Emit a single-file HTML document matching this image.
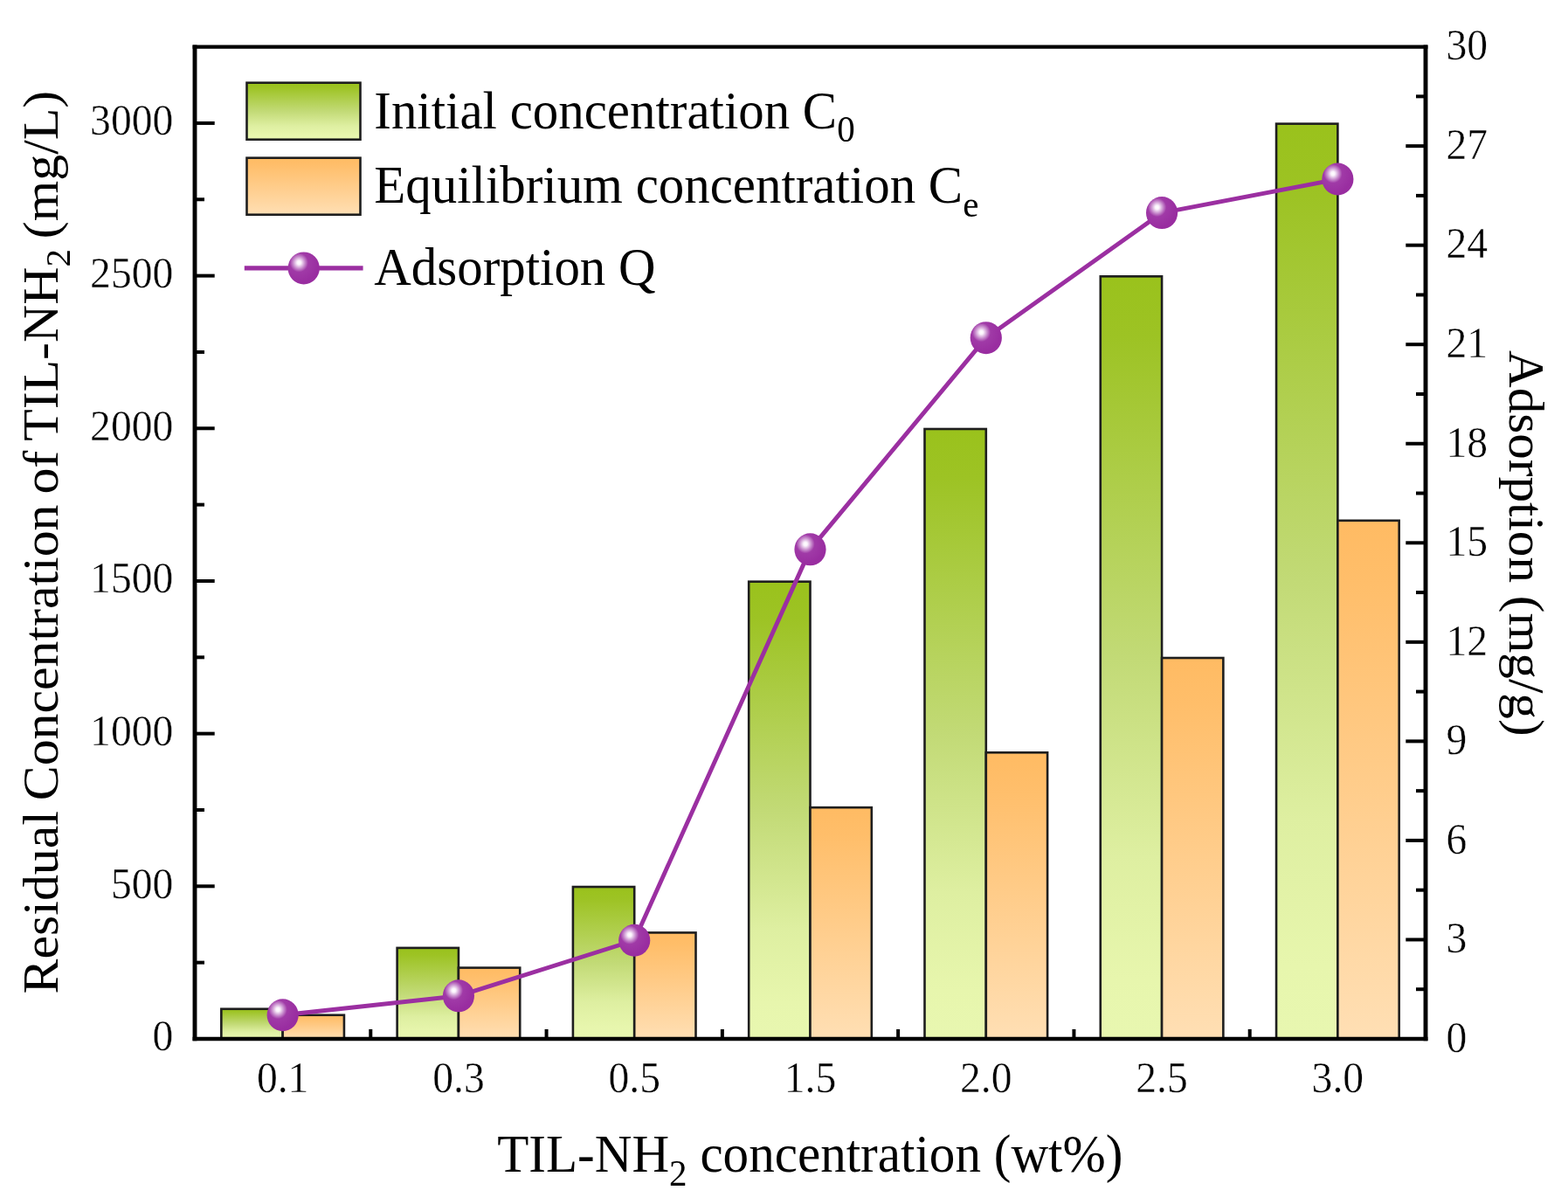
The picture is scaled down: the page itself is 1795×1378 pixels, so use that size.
<!DOCTYPE html>
<html lang="en"><head><meta charset="utf-8"><title>Residual concentration of TIL-NH2 and adsorption</title>
<style>html,body{margin:0;padding:0;background:#fff;}body{width:1795px;height:1378px;overflow:hidden;}svg{display:block;filter:blur(0.6px);}text{font-family:"Liberation Serif","Times New Roman",serif;fill:#000;stroke:#fff;stroke-width:0;}</style></head><body>
<svg width="1795" height="1378" viewBox="0 0 1795 1378">
<defs>
<linearGradient id="gG" x1="0" y1="0" x2="0" y2="1"><stop offset="0" stop-color="#9ac21c"/><stop offset="0.08" stop-color="#9dc324"/><stop offset="0.5" stop-color="#c2da76"/><stop offset="0.76" stop-color="#deefa1"/><stop offset="0.92" stop-color="#e7f6ad"/><stop offset="1" stop-color="#e8f7b0"/></linearGradient>
<linearGradient id="gO" x1="0" y1="0" x2="0" y2="1"><stop offset="0" stop-color="#ffbb63"/><stop offset="0.12" stop-color="#ffbe6a"/><stop offset="1" stop-color="#ffdfb4"/></linearGradient>
<radialGradient id="gS" cx="0.35" cy="0.33" r="0.62" fx="0.35" fy="0.33"><stop offset="0" stop-color="#ffffff"/><stop offset="0.1" stop-color="#faf2fb"/><stop offset="0.3" stop-color="#c88ccd"/><stop offset="0.47" stop-color="#a03aa7"/><stop offset="1" stop-color="#992da0"/></radialGradient>
</defs>
<rect x="0" y="0" width="1795" height="1378" fill="#ffffff"/>
<g stroke="#1e1e1e" stroke-width="2.6" stroke-linejoin="miter">
<rect x="253.34" y="1154.76" width="70.30" height="34.24" fill="url(#gG)"/>
<rect x="323.64" y="1161.75" width="70.30" height="27.25" fill="url(#gO)"/>
<rect x="454.63" y="1084.89" width="70.30" height="104.11" fill="url(#gG)"/>
<rect x="524.93" y="1107.60" width="70.30" height="81.40" fill="url(#gO)"/>
<rect x="655.91" y="1015.02" width="70.30" height="173.98" fill="url(#gG)"/>
<rect x="726.21" y="1067.43" width="70.30" height="121.57" fill="url(#gO)"/>
<rect x="857.20" y="665.67" width="70.30" height="523.33" fill="url(#gG)"/>
<rect x="927.50" y="924.19" width="70.30" height="264.81" fill="url(#gO)"/>
<rect x="1058.49" y="490.99" width="70.30" height="698.01" fill="url(#gG)"/>
<rect x="1128.79" y="861.31" width="70.30" height="327.69" fill="url(#gO)"/>
<rect x="1259.77" y="316.32" width="70.30" height="872.68" fill="url(#gG)"/>
<rect x="1330.07" y="753.01" width="70.30" height="435.99" fill="url(#gO)"/>
<rect x="1461.06" y="141.64" width="70.30" height="1047.36" fill="url(#gG)"/>
<rect x="1531.36" y="595.80" width="70.30" height="593.20" fill="url(#gO)"/>
</g>
<g stroke="#000" stroke-width="4.0" fill="none">
<line x1="223.00" y1="1101.66" x2="234.00" y2="1101.66"/>
<line x1="223.00" y1="1014.32" x2="245.70" y2="1014.32"/>
<line x1="223.00" y1="926.98" x2="234.00" y2="926.98"/>
<line x1="223.00" y1="839.65" x2="245.70" y2="839.65"/>
<line x1="223.00" y1="752.31" x2="234.00" y2="752.31"/>
<line x1="223.00" y1="664.97" x2="245.70" y2="664.97"/>
<line x1="223.00" y1="577.63" x2="234.00" y2="577.63"/>
<line x1="223.00" y1="490.29" x2="245.70" y2="490.29"/>
<line x1="223.00" y1="402.95" x2="234.00" y2="402.95"/>
<line x1="223.00" y1="315.62" x2="245.70" y2="315.62"/>
<line x1="223.00" y1="228.28" x2="234.00" y2="228.28"/>
<line x1="223.00" y1="140.94" x2="245.70" y2="140.94"/>
<line x1="1632.00" y1="1132.23" x2="1621.00" y2="1132.23"/>
<line x1="1632.00" y1="1075.46" x2="1609.30" y2="1075.46"/>
<line x1="1632.00" y1="1018.69" x2="1621.00" y2="1018.69"/>
<line x1="1632.00" y1="961.92" x2="1609.30" y2="961.92"/>
<line x1="1632.00" y1="905.15" x2="1621.00" y2="905.15"/>
<line x1="1632.00" y1="848.38" x2="1609.30" y2="848.38"/>
<line x1="1632.00" y1="791.61" x2="1621.00" y2="791.61"/>
<line x1="1632.00" y1="734.84" x2="1609.30" y2="734.84"/>
<line x1="1632.00" y1="678.07" x2="1621.00" y2="678.07"/>
<line x1="1632.00" y1="621.30" x2="1609.30" y2="621.30"/>
<line x1="1632.00" y1="564.53" x2="1621.00" y2="564.53"/>
<line x1="1632.00" y1="507.76" x2="1609.30" y2="507.76"/>
<line x1="1632.00" y1="450.99" x2="1621.00" y2="450.99"/>
<line x1="1632.00" y1="394.22" x2="1609.30" y2="394.22"/>
<line x1="1632.00" y1="337.45" x2="1621.00" y2="337.45"/>
<line x1="1632.00" y1="280.68" x2="1609.30" y2="280.68"/>
<line x1="1632.00" y1="223.91" x2="1621.00" y2="223.91"/>
<line x1="1632.00" y1="167.14" x2="1609.30" y2="167.14"/>
<line x1="1632.00" y1="110.37" x2="1621.00" y2="110.37"/>
<line x1="424.29" y1="1189.00" x2="424.29" y2="1178.00"/>
<line x1="625.57" y1="1189.00" x2="625.57" y2="1178.00"/>
<line x1="826.86" y1="1189.00" x2="826.86" y2="1178.00"/>
<line x1="1028.14" y1="1189.00" x2="1028.14" y2="1178.00"/>
<line x1="1229.43" y1="1189.00" x2="1229.43" y2="1178.00"/>
<line x1="1430.71" y1="1189.00" x2="1430.71" y2="1178.00"/>
</g>
<path d="M223.00 51.45V1191.15M1632.00 51.45V1191.15" fill="none" stroke="#000" stroke-width="4.9"/>
<path d="M220.55 53.60H1634.45M220.55 1189.00H1634.45" fill="none" stroke="#000" stroke-width="4.3"/>
<polyline points="323.64,1161.75 524.93,1139.80 726.21,1076.22 927.50,628.87 1128.79,386.65 1330.07,243.59 1531.36,204.99" fill="none" stroke="#9b2fa1" stroke-width="4.9" stroke-linejoin="round"/>
<ellipse cx="323.64" cy="1161.75" rx="18.1" ry="18.5" fill="url(#gS)"/>
<ellipse cx="524.93" cy="1139.80" rx="18.1" ry="18.5" fill="url(#gS)"/>
<ellipse cx="726.21" cy="1076.22" rx="18.1" ry="18.5" fill="url(#gS)"/>
<ellipse cx="927.50" cy="628.87" rx="18.1" ry="18.5" fill="url(#gS)"/>
<ellipse cx="1128.79" cy="386.65" rx="18.1" ry="18.5" fill="url(#gS)"/>
<ellipse cx="1330.07" cy="243.59" rx="18.1" ry="18.5" fill="url(#gS)"/>
<ellipse cx="1531.36" cy="204.99" rx="18.1" ry="18.5" fill="url(#gS)"/>
<text transform="translate(198.30,1202.30) scale(1.0,1.05)" font-size="47.6" text-anchor="end" style="stroke-width:0.4px">0</text>
<text transform="translate(198.30,1027.62) scale(1.0,1.05)" font-size="47.6" text-anchor="end" style="stroke-width:0.4px">500</text>
<text transform="translate(198.30,852.95) scale(1.0,1.05)" font-size="47.6" text-anchor="end" style="stroke-width:0.4px">1000</text>
<text transform="translate(198.30,678.27) scale(1.0,1.05)" font-size="47.6" text-anchor="end" style="stroke-width:0.4px">1500</text>
<text transform="translate(198.30,503.59) scale(1.0,1.05)" font-size="47.6" text-anchor="end" style="stroke-width:0.4px">2000</text>
<text transform="translate(198.30,328.92) scale(1.0,1.05)" font-size="47.6" text-anchor="end" style="stroke-width:0.4px">2500</text>
<text transform="translate(198.30,154.24) scale(1.0,1.05)" font-size="47.6" text-anchor="end" style="stroke-width:0.4px">3000</text>
<text transform="translate(1655.50,1203.80) scale(1.0,1.05)" font-size="47.6" text-anchor="start" style="stroke-width:0.4px">0</text>
<text transform="translate(1655.50,1090.26) scale(1.0,1.05)" font-size="47.6" text-anchor="start" style="stroke-width:0.4px">3</text>
<text transform="translate(1655.50,976.72) scale(1.0,1.05)" font-size="47.6" text-anchor="start" style="stroke-width:0.4px">6</text>
<text transform="translate(1655.50,863.18) scale(1.0,1.05)" font-size="47.6" text-anchor="start" style="stroke-width:0.4px">9</text>
<text transform="translate(1655.50,749.64) scale(1.0,1.05)" font-size="47.6" text-anchor="start" style="stroke-width:0.4px">12</text>
<text transform="translate(1655.50,636.10) scale(1.0,1.05)" font-size="47.6" text-anchor="start" style="stroke-width:0.4px">15</text>
<text transform="translate(1655.50,522.56) scale(1.0,1.05)" font-size="47.6" text-anchor="start" style="stroke-width:0.4px">18</text>
<text transform="translate(1655.50,409.02) scale(1.0,1.05)" font-size="47.6" text-anchor="start" style="stroke-width:0.4px">21</text>
<text transform="translate(1655.50,295.48) scale(1.0,1.05)" font-size="47.6" text-anchor="start" style="stroke-width:0.4px">24</text>
<text transform="translate(1655.50,181.94) scale(1.0,1.05)" font-size="47.6" text-anchor="start" style="stroke-width:0.4px">27</text>
<text transform="translate(1655.50,68.40) scale(1.0,1.05)" font-size="47.6" text-anchor="start" style="stroke-width:0.4px">30</text>
<text transform="translate(323.64,1250.30) scale(1.0,1.05)" font-size="47.6" text-anchor="middle" style="stroke-width:0.4px">0.1</text>
<text transform="translate(524.93,1250.30) scale(1.0,1.05)" font-size="47.6" text-anchor="middle" style="stroke-width:0.4px">0.3</text>
<text transform="translate(726.21,1250.30) scale(1.0,1.05)" font-size="47.6" text-anchor="middle" style="stroke-width:0.4px">0.5</text>
<text transform="translate(927.50,1250.30) scale(1.0,1.05)" font-size="47.6" text-anchor="middle" style="stroke-width:0.4px">1.5</text>
<text transform="translate(1128.79,1250.30) scale(1.0,1.05)" font-size="47.6" text-anchor="middle" style="stroke-width:0.4px">2.0</text>
<text transform="translate(1330.07,1250.30) scale(1.0,1.05)" font-size="47.6" text-anchor="middle" style="stroke-width:0.4px">2.5</text>
<text transform="translate(1531.36,1250.30) scale(1.0,1.05)" font-size="47.6" text-anchor="middle" style="stroke-width:0.4px">3.0</text>
<text transform="translate(927.30,1341.30) scale(1.0,1.02)" font-size="59.1" text-anchor="middle">TIL-NH<tspan font-size="41" dy="15">2</tspan><tspan dy="-15"> concentration (wt%)</tspan></text>
<text transform="translate(65.50,620.60) rotate(-90) scale(1.0,0.96)" font-size="59.8" text-anchor="middle" word-spacing="-3">Residual Concentration of TIL-NH<tspan font-size="41" dy="15">2</tspan><tspan dy="-15"> (mg/L)</tspan></text>
<text transform="translate(1728.00,621.80) rotate(90) scale(1.0,0.96)" font-size="59.1" text-anchor="middle">Adsorption (mg/g)</text>
<g stroke="#1e1e1e" stroke-width="2.6">
<rect x="282.5" y="94.7" width="130" height="65" fill="url(#gG)"/>
<rect x="282.5" y="180.7" width="130" height="65" fill="url(#gO)"/>
</g>
<line x1="279.8" y1="306.8" x2="415.6" y2="306.8" stroke="#9b2fa1" stroke-width="5.2"/>
<ellipse cx="347.7" cy="306.9" rx="18.1" ry="18.5" fill="url(#gS)"/>
<text transform="translate(428.30,146.70) scale(1.0,1.03)" font-size="58.9" text-anchor="start">Initial concentration C<tspan font-size="41" dy="15">0</tspan></text>
<text transform="translate(428.30,232.30) scale(1.0,1.03)" font-size="58.9" text-anchor="start">Equilibrium concentration C<tspan font-size="41" dy="15">e</tspan></text>
<text transform="translate(428.30,326.40) scale(1.0,1.03)" font-size="58.9" text-anchor="start">Adsorption Q</text>
</svg></body></html>
